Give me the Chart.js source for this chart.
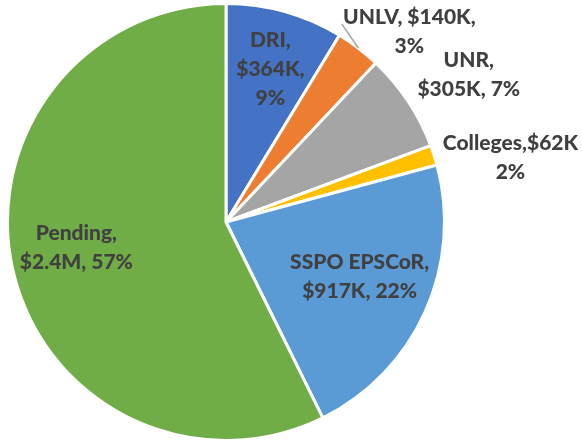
<!DOCTYPE html>
<html>
	<head>
		<meta charset="utf-8">
		<style>
body {
	margin: 0;
	background-color: #ffffff;
}
#wrap {
	width: 582px;
	height: 444px;
}
		</style>
	</head>
	<body>
		<div id="wrap"><canvas id="pieChart" width="582" height="444"></canvas></div>
		<script src="https://cdn.jsdelivr.net/npm/chart.js"></script>
		<script>
			// data, in $K
			const categories = ['DRI', 'UNLV', 'UNR', 'Colleges', 'SSPO EPSCoR', 'Pending'];
			const amounts = [364, 140, 305, 62, 917, 2400];
			const amountLabels = ['$364K', '$140K', '$305K', '$62K', '$917K', '$2.4M'];
			const percentLabels = ['9%', '3%', '7%', '2%', '22%', '57%'];

			const colours = ['#4472C4', '#ED7D31', '#A5A5A5', '#FFC000', '#5B9BD5', '#70AD47'];

			// how each label is broken into lines
			function labelLines(i) {
				const c = categories[i], a = amountLabels[i], p = percentLabels[i];
				if (i === 0) return [c + ',', a + ',', p];
				if (i === 1) return [c + ', ' + a + ',', p];
				if (i === 3) return [c + ',' + a, p];
				return [c + ',', a + ', ' + p];
			}

			// label placement: radius fraction and angle shift (deg) from the slice middle
			const labelPlace = [[0.73, 0.5], [1.21, 6.6], [1.30, 2.3], [1.335, 5], [0.661, -2], [0.695, 3.3]];

			const labelPlugin = {
				id: 'sliceLabels',
				afterDatasetsDraw(chart) {
					const ctx = chart.ctx;
					const arcs = chart.getDatasetMeta(0).data;
					ctx.save();
					ctx.font = '900 21px Lato';
					ctx.fillStyle = '#404040';
					ctx.textAlign = 'center';
					ctx.textBaseline = 'middle';
					arcs.forEach((arc, i) => {
						const mid = (arc.startAngle + arc.endAngle) / 2 + labelPlace[i][1] * Math.PI / 180;
						const r = arc.outerRadius * labelPlace[i][0];
						const x = arc.x + Math.cos(mid) * r;
						const y = arc.y + Math.sin(mid) * r;
						const lines = labelLines(i);
						const lh = 29;
						lines.forEach((t, k) => {
							ctx.fillText(t, x, y + (k - (lines.length - 1) / 2) * lh);
						});
					});
					// leader line for UNLV
					const a = arcs[1];
					const m = (a.startAngle + a.endAngle) / 2;
					const m2 = m - 7 * Math.PI / 180;
					ctx.strokeStyle = '#A6A6A6';
					ctx.lineWidth = 1.5;
					ctx.beginPath();
					ctx.moveTo(a.x + Math.cos(m) * a.outerRadius, a.y + Math.sin(m) * a.outerRadius);
					ctx.lineTo(a.x + Math.cos(m2) * a.outerRadius * 1.05, a.y + Math.sin(m2) * a.outerRadius * 1.05);
					ctx.stroke();
					ctx.restore();
				}
			};

			new Chart(document.getElementById('pieChart'), {
				type: 'pie',
				data: {
					labels: categories,
					datasets: [{
						data: amounts,
						backgroundColor: colours,
						borderColor: '#ffffff',
						borderWidth: 3
					}]
				},
				options: {
					responsive: false,
					animation: false,
					layout: {
						padding: { top: 2, bottom: 2, left: 6, right: 136 }
					},
					plugins: {
						legend: { display: false },
						tooltip: { enabled: false }
					}
				},
				plugins: [labelPlugin]
			});
		</script>
	</body>
</html>
